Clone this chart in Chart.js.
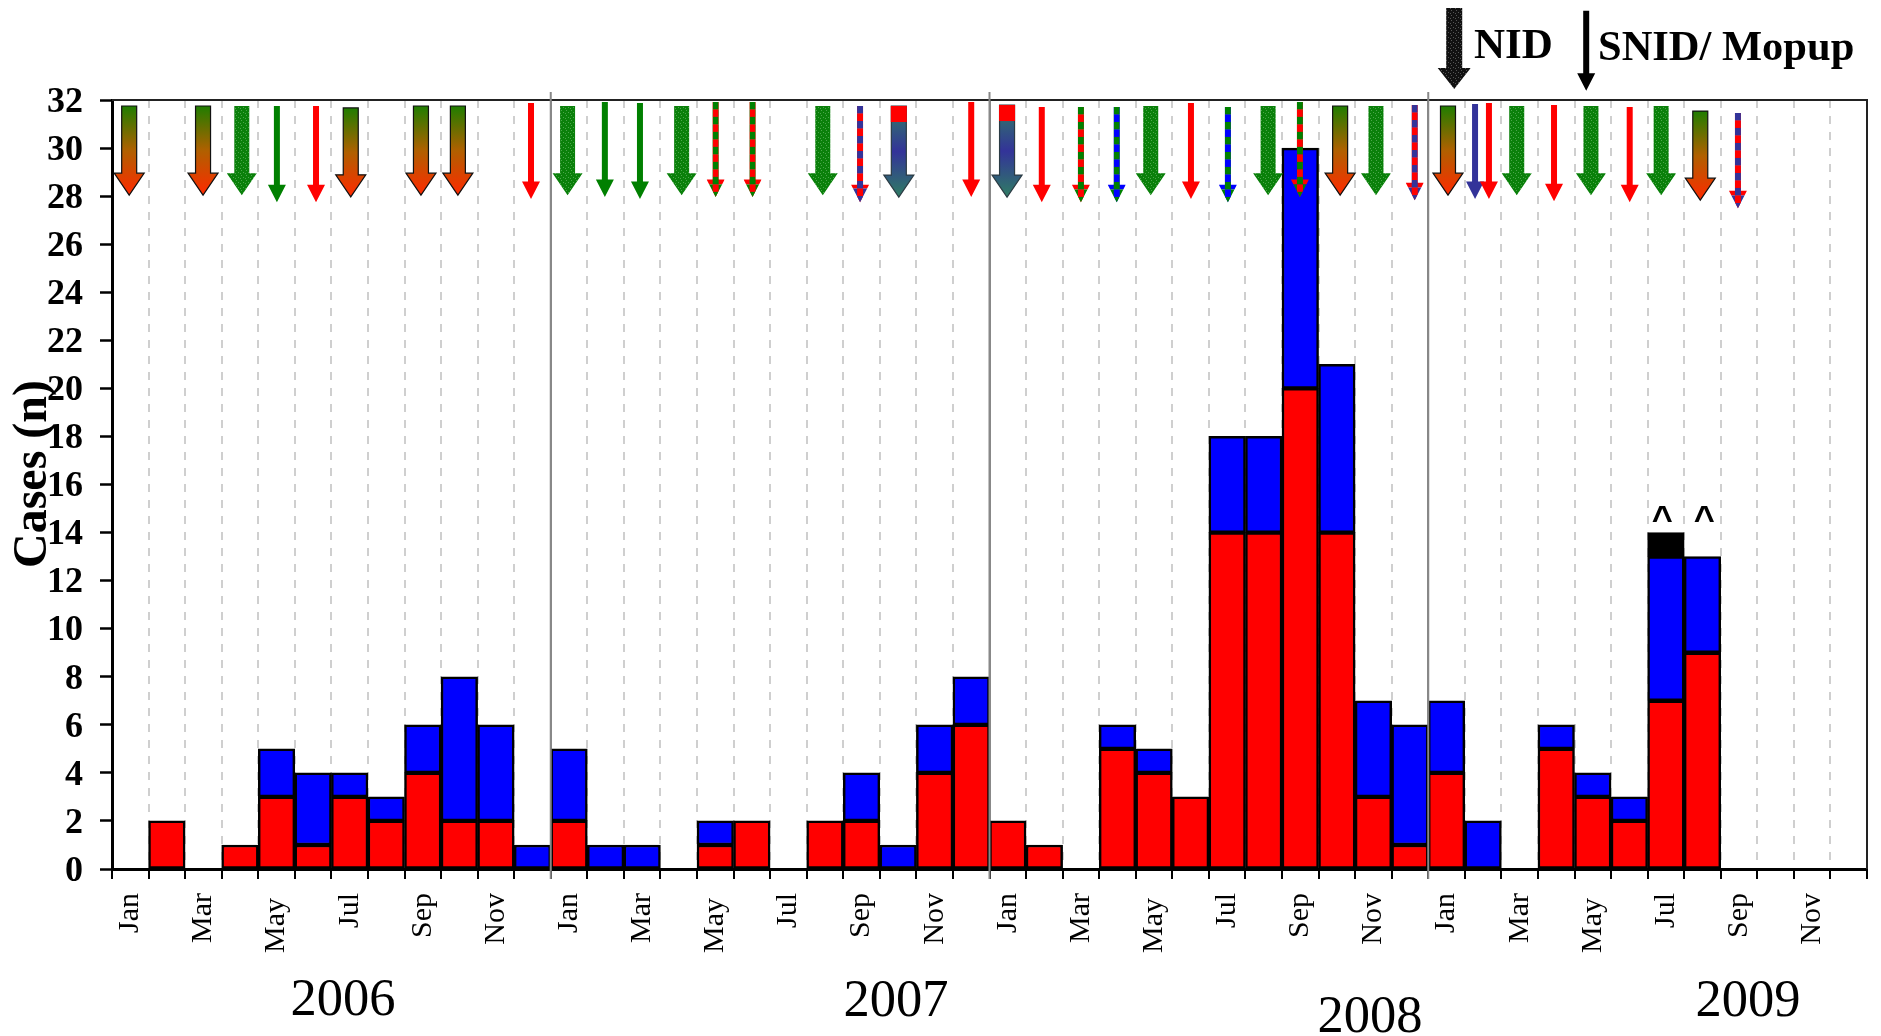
<!DOCTYPE html>
<html>
<head>
<meta charset="utf-8">
<title>Cases per month</title>
<style>
    html, body { margin: 0; padding: 0; background: #fff; }
    canvas { display: block; }
</style>
<script src="https://cdn.jsdelivr.net/npm/chart.js@4"></script>
</head>
<body>
<canvas id="casesChart" width="1881" height="1036"></canvas>
<script>
const monthLabels = ['Jan', '', 'Mar', '', 'May', '', 'Jul', '', 'Sep', '', 'Nov', ''];
const yearLabels = ['2006', '2007', '2008', '2009'];
const categories = yearLabels.flatMap(() => monthLabels);

// one value per month, Jan 2006 to Dec 2009, null where no segment is drawn
const redCases = [
    null, 2, null, 1, 3, 1, 3, 2, 4, 2, 2, null,
    2, null, null, null, 1, 2, null, 2, 2, null, 4, 6,
    2, 1, null, 5, 4, 3, 14, 14, 20, 14, 3, 1,
    4, null, null, 5, 3, 2, 7, 9, null, null, null, null
];
const blueCases = [
    null, null, null, null, 2, 3, 1, 1, 2, 6, 4, 1,
    3, 1, 1, null, 1, null, null, null, 2, 1, 2, 2,
    null, null, null, 1, 1, null, 4, 4, 10, 7, 4, 5,
    3, 2, null, 1, 1, 1, 6, 4, null, null, null, null
];
const blackCases = [
    null, null, null, null, null, null, null, null, null, null, null, null,
    null, null, null, null, null, null, null, null, null, null, null, null,
    null, null, null, null, null, null, null, null, null, null, null, null,
    null, null, null, null, null, null, 1, null, null, null, null, null
];

// campaign arrows: month index on the x axis, top and tip read on the cases axis
const arrowMonth = [
    -0.03, 1.99, 3.05, 4.01, 5.08, 6.03, 7.95, 8.96, 10.96, 11.96,
    12.98, 13.94, 15.08, 16.01, 17.02, 18.94, 19.96, 21.02, 23.0, 23.98,
    24.93, 26.0, 26.98, 27.91, 29.01, 30.02, 31.12, 31.99, 33.09, 34.07,
    35.13, 36.04, 36.78, 37.16, 37.92, 38.94, 39.95, 41.01, 41.87, 42.94, 43.97,
    36.21, 39.82
];
const arrowTop = [
    31.75, 31.75, 31.75, 31.75, 31.75, 31.67, 31.75, 31.75, 31.88, 31.75,
    31.92, 31.88, 31.75, 31.92, 31.92, 31.75, 31.75, 31.75, 31.92, 31.79,
    31.71, 31.71, 31.71, 31.75, 31.88, 31.71, 31.75, 31.92, 31.75, 31.75,
    31.79, 31.75, 31.83, 31.88, 31.75, 31.79, 31.75, 31.71, 31.75, 31.54, 31.46,
    35.83, 35.71
];
const arrowTip = [
    28.04, 28.04, 28.04, 27.75, 27.75, 27.97, 28.04, 28.04, 27.88, 28.04,
    27.96, 27.88, 28.04, 27.96, 27.96, 28.04, 27.75, 27.96, 27.96, 27.96,
    27.75, 27.75, 27.75, 28.04, 27.88, 27.75, 28.04, 27.96, 28.04, 28.04,
    27.83, 28.04, 27.88, 27.88, 28.04, 27.79, 28.04, 27.75, 28.04, 27.83, 27.5,
    32.46, 32.38
];
const arrowKind = [
    'fade', 'fade', 'dots', 'green', 'red', 'fade', 'fade', 'fade', 'red', 'dots',
    'green', 'green', 'dots', 'redGreen', 'redGreen', 'dots', 'redBlue', 'capped', 'red', 'capped',
    'red', 'redGreen', 'blueGreen', 'dots', 'red', 'blueGreen', 'dots', 'redGreen', 'fade', 'dots',
    'redBlue', 'fade', 'blue', 'red', 'dots', 'red', 'dots', 'red', 'dots', 'fade', 'redBlue',
    'blackDots', 'black'
];

const caretMonth = [41.9, 43.05];
const caretValue = [14.08, 14.08];

function dotted(base, speck) {
    const tile = document.createElement('canvas');
    tile.width = 5;
    tile.height = 5;
    const c = tile.getContext('2d');
    c.fillStyle = base;
    c.fillRect(0, 0, 5, 5);
    c.fillStyle = speck;
    c.fillRect(1, 0, 1, 1);
    c.fillRect(3, 2, 1, 1);
    c.fillRect(0, 3, 1, 1);
    return tile;
}

const arrowStyles = {
    fade: { shaft: 15, head: 15, headLen: 22, fade: ['#1f7d00', '#b06000', '#ff2a00'], line: '#111' },
    capped: { shaft: 15, head: 15, headLen: 22, fade: ['#2f7d63', '#333399', '#2f7d63'], line: '#2b3b44', cap: 16 },
    dots: { shaft: 15, head: 15, headLen: 22, tile: dotted('#0a800a', '#4aa64a') },
    blackDots: { shaft: 16, head: 16.5, headLen: 21, tile: dotted('#111', '#555') },
    green: { shaft: 6, head: 9, headLen: 17.5, fill: '#008000' },
    red: { shaft: 6, head: 9, headLen: 17.5, fill: '#ff0000' },
    blue: { shaft: 6, head: 9, headLen: 17.5, fill: '#333399' },
    black: { shaft: 6, head: 9, headLen: 17.5, fill: '#000' },
    redGreen: { shaft: 6, head: 9, headLen: 17.5, stripes: ['#ff0000', '#008000'] },
    redBlue: { shaft: 6, head: 9, headLen: 17.5, stripes: ['#ff0000', '#333399'] },
    blueGreen: { shaft: 6, head: 9, headLen: 17.5, stripes: ['#0000ff', '#008000'] }
};

function drawArrow(ctx, x, top, tip, style) {
    const neck = tip - style.headLen;
    ctx.save();
    ctx.beginPath();
    ctx.moveTo(x - style.shaft / 2, top);
    ctx.lineTo(x + style.shaft / 2, top);
    ctx.lineTo(x + style.shaft / 2, neck);
    ctx.lineTo(x + style.head, neck);
    ctx.lineTo(x, tip);
    ctx.lineTo(x - style.head, neck);
    ctx.lineTo(x - style.shaft / 2, neck);
    ctx.closePath();

    if (style.stripes) {
        ctx.clip();
        let row = 0;
        for (let y = top; y < tip; y += 7.5, row++) {
            ctx.fillStyle = style.stripes[row % 2];
            ctx.fillRect(x - style.head, y, style.head * 2, 7.5);
            ctx.fillStyle = style.stripes[(row + 1) % 2];
            ctx.fillRect(x - style.shaft / 2, y, style.shaft, 7.5);
        }
    } else if (style.tile) {
        ctx.fillStyle = ctx.createPattern(style.tile, 'repeat');
        ctx.fill();
    } else if (style.fade) {
        const grad = ctx.createLinearGradient(0, top, 0, tip);
        style.fade.forEach((color, i) => grad.addColorStop(i / (style.fade.length - 1), color));
        ctx.fillStyle = grad;
        ctx.fill();
        ctx.strokeStyle = style.line;
        ctx.lineWidth = 1.2;
        ctx.stroke();
    } else {
        ctx.fillStyle = style.fill;
        ctx.fill();
    }
    if (style.cap) {
        ctx.fillStyle = '#ff0000';
        ctx.fillRect(x - style.shaft / 2 - 0.5, top, style.shaft + 1, style.cap);
    }
    ctx.restore();
}

const serif = '"Liberation Serif", "Times New Roman", serif';

// frame, year dividers, campaign arrows and the free-standing texts
const overlayPlugin = {
    id: 'overlay',
    beforeDraw(chart) {
        // the printed tick numbers sit a little under their tick marks, May a little lower on its axis
        chart.scales.y.getLabelItems(chart.chartArea).forEach((item) => {
            item.textOffset += 2.5;
        });
        chart.scales.x.getLabelItems(chart.chartArea).forEach((item) => {
            if (item.label === 'May') {
                item.options.translation = [item.options.translation[0], item.options.translation[1] + 5];
            }
        });
    },
    afterDatasetsDraw(chart) {
        const { ctx, chartArea, scales } = chart;
        const x = scales.x;
        const y = scales.y;

        ctx.save();
        ctx.strokeStyle = '#222';
        ctx.lineWidth = 2;
        ctx.beginPath();
        ctx.moveTo(chartArea.left, chartArea.top);
        ctx.lineTo(chartArea.right, chartArea.top);
        ctx.lineTo(chartArea.right, chartArea.bottom);
        ctx.stroke();

        ctx.strokeStyle = '#888';
        yearLabels.forEach((year, i) => {
            if (i === 0) return;
            const px = x.getPixelForValue(i * 12 - 0.5);
            ctx.beginPath();
            ctx.moveTo(px, chartArea.top - 8);
            ctx.lineTo(px, chartArea.bottom + 10);
            ctx.stroke();
        });

        arrowMonth.forEach((month, i) => {
            drawArrow(
                ctx,
                x.getPixelForValue(month),
                y.getPixelForValue(arrowTop[i]),
                y.getPixelForValue(arrowTip[i]),
                arrowStyles[arrowKind[i]]
            );
        });

        ctx.fillStyle = '#000';
        ctx.textAlign = 'center';
        ctx.textBaseline = 'alphabetic';

        ctx.font = 'bold 36px "Liberation Sans", Arial, sans-serif';
        caretMonth.forEach((month, i) => {
            ctx.fillText('^', x.getPixelForValue(month), y.getPixelForValue(caretValue[i]));
        });

        ctx.font = '52.5px ' + serif;
        ctx.fillText(yearLabels[0], 343, 1015);
        ctx.fillText(yearLabels[1], 896, 1016);
        ctx.fillText(yearLabels[2], 1370, 1032);
        ctx.fillText(yearLabels[3], 1748, 1016);

        ctx.textAlign = 'left';
        ctx.font = 'bold 43px ' + serif;
        ctx.fillText('NID', 1474, 58);
        ctx.font = 'bold 42.5px ' + serif;
        ctx.fillText('SNID/ Mopup', 1598, 60);

        ctx.translate(46, 474);
        ctx.rotate(-Math.PI / 2);
        ctx.textAlign = 'center';
        ctx.font = 'bold 48px ' + serif;
        ctx.fillText('Cases (n)', 0, 0);
        ctx.restore();
    }
};

const barBase = {
    borderColor: '#000',
    borderWidth: 2.5,
    borderSkipped: false,
    barPercentage: 1,
    categoryPercentage: 1
};

new Chart(document.getElementById('casesChart'), {
    type: 'bar',
    data: {
        labels: categories,
        datasets: [
            { label: 'Red', data: redCases, backgroundColor: '#ff0000', ...barBase },
            { label: 'Blue', data: blueCases, backgroundColor: '#0000ff', ...barBase },
            { label: 'Black', data: blackCases, backgroundColor: '#000', ...barBase }
        ]
    },
    options: {
        responsive: false,
        animation: false,
        devicePixelRatio: 1,
        layout: {
            autoPadding: false,
            padding: { top: 100, right: 14 }
        },
        plugins: {
            legend: { display: false },
            title: { display: false },
            tooltip: { enabled: false }
        },
        scales: {
            x: {
                stacked: true,
                afterFit: (scale) => {
                    scale.height = 167;
                    // rotated labels reserve room past the last tick, which this axis does not need
                    scale.paddingLeft = 0;
                    scale.paddingRight = 0;
                },
                grid: {
                    offset: true,
                    lineWidth: 2,
                    tickLength: 10,
                    tickWidth: 2,
                    color: (c) => (c.index % 12 === 0 ? '#888' : '#cfcfcf'),
                    tickColor: '#000'
                },
                border: {
                    color: '#000',
                    width: 3,
                    dash: (c) => (c.index % 12 === 0 ? [] : [8, 8])
                },
                ticks: {
                    autoSkip: false,
                    minRotation: 90,
                    maxRotation: 90,
                    padding: 14,
                    color: '#000',
                    font: { family: serif, size: 30 }
                }
            },
            y: {
                stacked: true,
                min: 0,
                max: 32,
                afterFit: (scale) => { scale.width = 112; },
                grid: {
                    drawOnChartArea: false,
                    tickLength: 12,
                    tickWidth: 2.5,
                    tickColor: '#000'
                },
                border: { color: '#000', width: 3 },
                ticks: {
                    stepSize: 2,
                    padding: 17,
                    color: '#000',
                    font: { family: serif, size: 36, weight: 'bold' }
                }
            }
        }
    },
    plugins: [overlayPlugin]
});
</script>
</body>
</html>
